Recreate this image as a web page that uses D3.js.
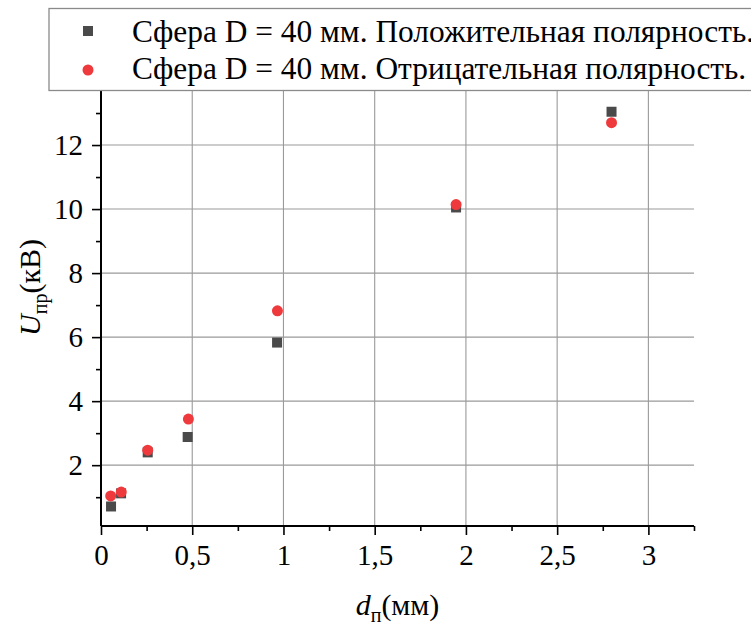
<!DOCTYPE html>
<html>
<head>
<meta charset="utf-8">
<script src="https://cdn.jsdelivr.net/npm/d3@7"></script>
<style>
  html, body { margin: 0; padding: 0; background: #fff; }
  svg { display: block; }
</style>
</head>
<body>
<svg id="chart" width="751" height="626"></svg>
<script>
// Breakdown voltage vs. gap length, sphere D = 40 mm
const seriesNames = [
  "Сфера D = 40 мм. Положительная полярность.",
  "Сфера D = 40 мм. Отрицательная полярность."
];
const gapPositive = [0.055, 0.11, 0.256, 0.475, 0.965, 1.946, 2.798];
const voltPositive = [0.71, 1.12, 2.40, 2.88, 5.83, 10.05, 13.04];
const gapNegative = [0.053, 0.111, 0.256, 0.479, 0.967, 1.946, 2.798];
const voltNegative = [1.04, 1.16, 2.47, 3.44, 6.82, 10.14, 12.70];

const xMajorTicks = [0, 0.5, 1, 1.5, 2, 2.5, 3];
const xMinorTicks = [0.25, 0.75, 1.25, 1.75, 2.25, 2.75, 3.25];
const yMajorTicks = [2, 4, 6, 8, 10, 12, 14];
const yMinorTicks = [1, 3, 5, 7, 9, 11, 13, 15];

const colorPositive = "#4a4a4a";
const colorNegative = "#ef3a3d";
const serif = "\"Liberation Serif\"";
const fmt = v => String(v).replace(".", ",");

const svg = d3.select("#chart");
const plotL = 101, plotR = 694, plotT = 49, plotB = 526;

const x = d3.scaleLinear().domain([0, 3.25]).range([plotL, plotR]);
const y = d3.scaleLinear().domain([0.1, 15]).range([plotB, plotT]);

// grid
const grid = svg.append("g").attr("stroke", "#9a9a9a").attr("stroke-width", 1.1);
grid.selectAll("line.gx").data(xMajorTicks.filter(d => d > 0)).join("line")
  .attr("x1", d => x(d)).attr("x2", d => x(d))
  .attr("y1", plotT).attr("y2", plotB);
grid.selectAll("line.gy").data(yMajorTicks).join("line")
  .attr("x1", plotL).attr("x2", plotR)
  .attr("y1", d => y(d)).attr("y2", d => y(d));

// x axis
const xAxis = svg.append("g").attr("transform", `translate(0,${plotB})`)
  .call(d3.axisBottom(x).tickValues(xMajorTicks).tickFormat(fmt).tickSize(9).tickPadding(9));
svg.append("g").attr("transform", `translate(0,${plotB})`)
  .call(d3.axisBottom(x).tickValues(xMinorTicks).tickFormat("").tickSize(5).tickSizeOuter(0))
  .select(".domain").remove();

// y axis
const yAxis = svg.append("g").attr("transform", `translate(${plotL},0)`)
  .call(d3.axisLeft(y).tickValues(yMajorTicks).tickFormat(fmt).tickSize(9).tickPadding(9));
svg.append("g").attr("transform", `translate(${plotL},0)`)
  .call(d3.axisLeft(y).tickValues(yMinorTicks).tickFormat("").tickSize(5).tickSizeOuter(0))
  .select(".domain").remove();

svg.selectAll("g").attr("font-family", null);
svg.selectAll(".domain").attr("stroke", "#000").attr("stroke-width", 2);
svg.selectAll(".tick line").attr("stroke", "#000").attr("stroke-width", 1.6);
svg.selectAll(".tick text").attr("fill", "#000")
  .style("font-family", serif).style("font-size", "29px");
// domains drawn without outer ticks
xAxis.select(".domain").attr("d", `M${plotL},0H${plotR}`);
yAxis.select(".domain").attr("d", `M0,${plotB}V${plotT}`);

// points
const sq = 10;
svg.append("g").selectAll("rect").data(gapPositive.map((d, i) => [d, voltPositive[i]])).join("rect")
  .attr("x", d => x(d[0]) - sq / 2).attr("y", d => y(d[1]) - sq / 2)
  .attr("width", sq).attr("height", sq).attr("fill", colorPositive);
svg.append("g").selectAll("circle").data(gapNegative.map((d, i) => [d, voltNegative[i]])).join("circle")
  .attr("cx", d => x(d[0])).attr("cy", d => y(d[1])).attr("r", 5.5)
  .attr("fill", colorNegative);

// axis titles
const xt = svg.append("text").attr("x", (plotL + plotR) / 2).attr("y", 615)
  .attr("text-anchor", "middle").style("font-family", serif).style("font-size", "30px").attr("fill", "#000");
xt.append("tspan").style("font-style", "italic").text("d");
xt.append("tspan").attr("dy", 7).style("font-size", "20px").text("п");
xt.append("tspan").attr("dy", -7).text("(мм)");

const yt = svg.append("text")
  .attr("transform", `translate(40,${(plotT + plotB) / 2}) rotate(-90)`)
  .attr("text-anchor", "middle").style("font-family", serif).style("font-size", "30px").attr("fill", "#000");
yt.append("tspan").style("font-style", "italic").text("U");
yt.append("tspan").attr("dy", 7).style("font-size", "20px").text("пр");
yt.append("tspan").attr("dy", -7).text("(кВ)");

// legend
const lg = svg.append("g");
lg.append("rect").attr("x", 49).attr("y", 8.5).attr("width", 760).attr("height", 82)
  .attr("fill", "#fff").attr("stroke", "#8a8a8a").attr("stroke-width", 1.3);
lg.append("rect").attr("x", 88 - sq / 2).attr("y", 31 - sq / 2)
  .attr("width", sq).attr("height", sq).attr("fill", colorPositive);
lg.append("circle").attr("cx", 88).attr("cy", 70).attr("r", 5.5).attr("fill", colorNegative);
lg.selectAll("text").data(seriesNames).join("text")
  .attr("x", 132).attr("y", (d, i) => 42 + i * 37)
  .style("font-family", serif).style("font-size", "31.4px").attr("fill", "#000").text(d => d);
</script>
</body>
</html>
